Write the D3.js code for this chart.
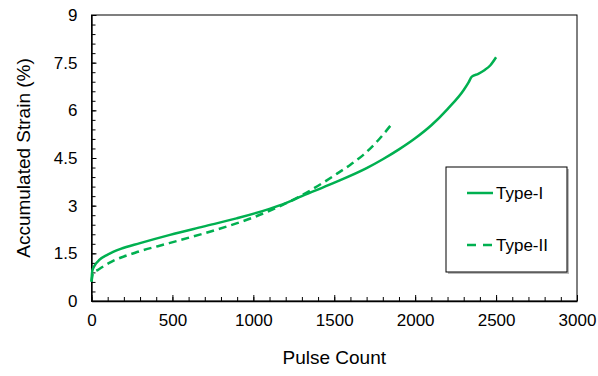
<!DOCTYPE html>
<html>
<head>
<meta charset="utf-8">
<script src="https://cdn.jsdelivr.net/npm/d3@7"></script>
<style>
  body { margin: 0; background: #fff; }
  text { font-family: "Liberation Sans", Arial, sans-serif; fill: #000; }
</style>
</head>
<body>
<div id="chart"></div>
<script>
// data
const typeICounts = [0, 5, 20, 50, 100, 180, 300, 485, 690, 896, 1100, 1200, 1300, 1490, 1700, 1800, 1900, 2000, 2100, 2200, 2300, 2330, 2350, 2390, 2430, 2465, 2500];
const typeIStrain = [0.62, 0.95, 1.12, 1.30, 1.46, 1.64, 1.82, 2.08, 2.34, 2.60, 2.90, 3.08, 3.30, 3.70, 4.18, 4.46, 4.77, 5.12, 5.53, 6.04, 6.64, 6.88, 7.06, 7.15, 7.27, 7.42, 7.67];
const typeIICounts = [0, 10, 40, 125, 270, 480, 690, 900, 1000, 1100, 1200, 1300, 1430, 1515, 1600, 1680, 1770, 1860];
const typeIIStrain = [0.60, 0.88, 0.98, 1.24, 1.52, 1.82, 2.12, 2.45, 2.63, 2.84, 3.07, 3.33, 3.72, 4.00, 4.29, 4.60, 5.05, 5.60];
const seriesNames = ['Type-I', 'Type-II'];
const xTicks = [0, 500, 1000, 1500, 2000, 2500, 3000];
const yTicks = [0, 1.5, 3, 4.5, 6, 7.5, 9];

const W = 598, H = 376;
const margin = { top: 15, right: 21, bottom: 75, left: 91.5 };
const width  = W - margin.left - margin.right;
const height = H - margin.top - margin.bottom;
const green = '#00b050';

const x = d3.scaleLinear().domain([0, 3000]).range([0, width]);
const y = d3.scaleLinear().domain([0, 9]).range([height, 0]);

const svg = d3.select('#chart').append('svg')
    .attr('width', W)
    .attr('height', H);

const g = svg.append('g')
    .attr('transform', `translate(${margin.left},${margin.top})`);

// frame
g.append('rect')
    .attr('width', width)
    .attr('height', height)
    .attr('fill', 'none')
    .attr('stroke', '#000')
    .attr('stroke-width', 1);

// minor ticks
g.append('g')
    .call(d3.axisLeft(y).tickValues(d3.range(0, 9.01, 0.3)).tickSize(-4).tickFormat(''))
    .call(a => a.select('.domain').remove());
g.append('g')
    .attr('transform', `translate(0,${height})`)
    .call(d3.axisBottom(x).tickValues(d3.range(0, 3001, 100)).tickSize(-4).tickFormat(''))
    .call(a => a.select('.domain').remove());

// major axes
const yAxis = g.append('g')
    .call(d3.axisLeft(y).tickValues(yTicks).tickSizeInner(-5).tickSizeOuter(0).tickPadding(14).tickFormat(d3.format('')));
const xAxis = g.append('g')
    .attr('transform', `translate(0,${height})`)
    .call(d3.axisBottom(x).tickValues(xTicks).tickSizeInner(-6).tickSizeOuter(0).tickPadding(13).tickFormat(d3.format('')));

[xAxis, yAxis].forEach(a => {
  a.select('.domain').attr('stroke-width', 1.4);
  a.selectAll('text').style('font-size', '17px');
});
g.selectAll('.tick line').attr('stroke', '#000');

// lines
const line = d3.line()
    .x(d => x(d[0]))
    .y(d => y(d[1]))
    .curve(d3.curveMonotoneX);

const s1 = typeICounts.map((c, i) => [c, typeIStrain[i]]);
const s2 = typeIICounts.map((c, i) => [c, typeIIStrain[i]]);

g.append('path')
    .datum(s2)
    .attr('d', line)
    .attr('fill', 'none')
    .attr('stroke', green)
    .attr('stroke-width', 2.5)
    .attr('stroke-dasharray', '8,5');

g.append('path')
    .datum(s1)
    .attr('d', line)
    .attr('fill', 'none')
    .attr('stroke', green)
    .attr('stroke-width', 2.5);

// axis titles
svg.append('text')
    .attr('x', margin.left + width / 2)
    .attr('y', 364)
    .attr('text-anchor', 'middle')
    .style('font-size', '19px')
    .text('Pulse Count');

svg.append('text')
    .attr('transform', `translate(30,${margin.top + height / 2}) rotate(-90)`)
    .attr('text-anchor', 'middle')
    .style('font-size', '19px')
    .text('Accumulated Strain (%)');

// legend
const lg = svg.append('g').attr('transform', 'translate(446,167)');
lg.append('rect')
    .attr('x', 2).attr('y', 2)
    .attr('width', 121).attr('height', 105)
    .attr('fill', '#bbb');
lg.append('rect')
    .attr('width', 121).attr('height', 105)
    .attr('fill', '#fff')
    .attr('stroke', '#000')
    .attr('stroke-width', 1);

seriesNames.forEach((name, i) => {
  const yy = 26 + i * 52;
  lg.append('line')
      .attr('x1', 21).attr('x2', 47)
      .attr('y1', yy).attr('y2', yy)
      .attr('stroke', green)
      .attr('stroke-width', 2.5)
      .attr('stroke-dasharray', i === 1 ? '9,7' : null);
  lg.append('text')
      .attr('x', 50)
      .attr('y', yy)
      .attr('dy', '0.35em')
      .style('font-size', '17px')
      .text(name);
});
</script>
</body>
</html>
